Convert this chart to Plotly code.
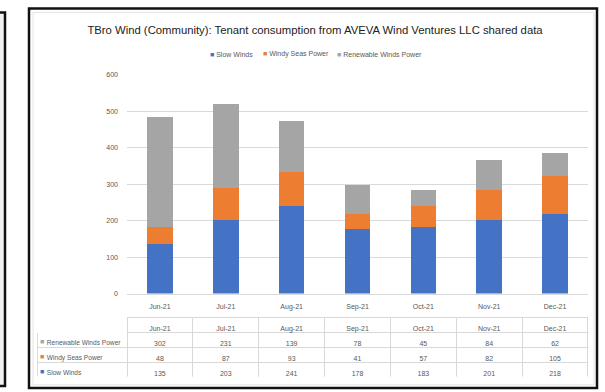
import plotly.graph_objects as go

# Monthly tenant consumption by source
months = ["Jun-21", "Jul-21", "Aug-21", "Sep-21", "Oct-21", "Nov-21", "Dec-21"]
slow_winds = [135, 203, 241, 178, 183, 201, 218]
windy_seas_power = [48, 87, 93, 41, 57, 82, 105]
renewable_winds_power = [302, 231, 139, 78, 45, 84, 62]

series_names = ["Slow Winds", "Windy Seas Power", "Renewable Winds Power"]
series_colors = ["#4472C4", "#ED7D31", "#A5A5A5"]
y_ticks = [0, 100, 200, 300, 400, 500, 600]

title_text = "TBro Wind (Community): Tenant consumption from AVEVA Wind Ventures LLC shared data"

W, H = 605, 392
ML, MR, MT, MB = 37, 17, 75, 13
PW, PH = W - ML - MR, H - MT - MB


def px_x(p):
    return (p - ML) / PW


def px_y(p):
    return (H - MB - p) / PH


TXT = "#595959"
GRID = "#D9D9D9"
FONT = "'Liberation Sans', Arial, sans-serif"
NBSP = "\u00a0"

fig = go.Figure()

all_series = [slow_winds, windy_seas_power, renewable_winds_power]
for name, vals, color in zip(series_names, all_series, series_colors):
    fig.add_trace(go.Bar(x=months, y=vals, name=name, showlegend=False,
                         marker=dict(color=color, line_width=0)))

# data table below the chart (top row = last series)
row_series = list(zip(series_names, all_series, series_colors))[::-1]
row_labels = [NBSP + n.replace(" ", NBSP) for n, _, _ in row_series]
col_values = [row_labels] + [[str(vals[i]) for _, vals, _ in row_series] for i in range(len(months))]

label_w = 127 - ML
month_w = (588 - 127) / len(months)
HEAD_H, ROW_H = 15, 15
table_top = 319

fig.add_trace(go.Table(
    domain=dict(x=[0, 1], y=[0, px_y(table_top)]),
    columnwidth=[label_w] + [month_w] * len(months),
    header=dict(values=[""] + months, height=HEAD_H, align="center",
                fill_color="white", line=dict(color=["white"] + [GRID] * len(months), width=1),
                font=dict(family=FONT, size=7, color=TXT)),
    cells=dict(values=col_values, height=ROW_H, align=["left"] + ["center"] * len(months),
               fill_color="white", line=dict(color=GRID, width=1),
               font=dict(family=FONT, size=[6.6] + [7] * len(months), color=TXT)),
))

annotations = []
# legend keys inside the table's label column
for i, (_, _, color) in enumerate(row_series):
    yc = table_top + HEAD_H + ROW_H * (i + 0.5) + 1.5
    annotations.append(dict(text="■", xref="paper", yref="paper", x=px_x(42), y=px_y(yc),
                            xanchor="center", yanchor="middle", showarrow=False,
                            font=dict(family=FONT, size=7, color=color)))

# legend row under the title
legend_x = [211, 264, 338]
for name, color, lx in zip(series_names, series_colors, legend_x):
    annotations.append(dict(text=f'<span style="color:{color}">■</span> {name}',
                            xref="paper", yref="paper", x=px_x(lx - 3), y=px_y(54),
                            xanchor="left", yanchor="middle", showarrow=False,
                            font=dict(family=FONT, size=7, color=TXT)))

fig.update_layout(
    width=W, height=H,
    margin=dict(l=ML, r=MR, t=MT, b=MB),
    paper_bgcolor="white", plot_bgcolor="white",
    barmode="stack", bargap=0.61,
    font=dict(family=FONT, size=7, color=TXT),
    title=dict(text=title_text, x=px_x(315), xref="paper", xanchor="center",
               y=1 - 30 / H, yanchor="middle",
               font=dict(family=FONT, size=11.3, color="#222222")),
    xaxis=dict(domain=[px_x(127), px_x(588)], showline=True, linecolor=GRID, linewidth=1,
               showgrid=False, ticks="", tickfont=dict(size=7, color=TXT), ticklabelstandoff=6),
    yaxis=dict(domain=[px_y(295), px_y(75)], range=[0, 600], tickvals=y_ticks,
               showgrid=True, gridcolor=GRID, gridwidth=1, zeroline=False, showline=False,
               ticks="", tickfont=dict(size=7, color=TXT), ticklabelstandoff=8),
    showlegend=False,
    annotations=annotations,
)

# chart frame and neighbouring panel edge
shapes = [
    dict(type="rect", xref="paper", yref="paper", x0=px_x(33), x1=px_x(594), y0=px_y(387), y1=px_y(12),
         line=dict(color="#E4E4E4", width=1), layer="below"),
    dict(type="rect", xref="paper", yref="paper", x0=px_x(29), x1=px_x(597), y0=px_y(390), y1=px_y(8),
         line=dict(color="#111111", width=2.5)),
    dict(type="rect", xref="paper", yref="paper", x0=px_x(-2), x1=px_x(5), y0=px_y(388), y1=px_y(12),
         line=dict(color="#111111", width=2.5), fillcolor="#F2F2F2", layer="below"),
]
fig.update_layout(shapes=shapes)

fig.write_html("out.html")
